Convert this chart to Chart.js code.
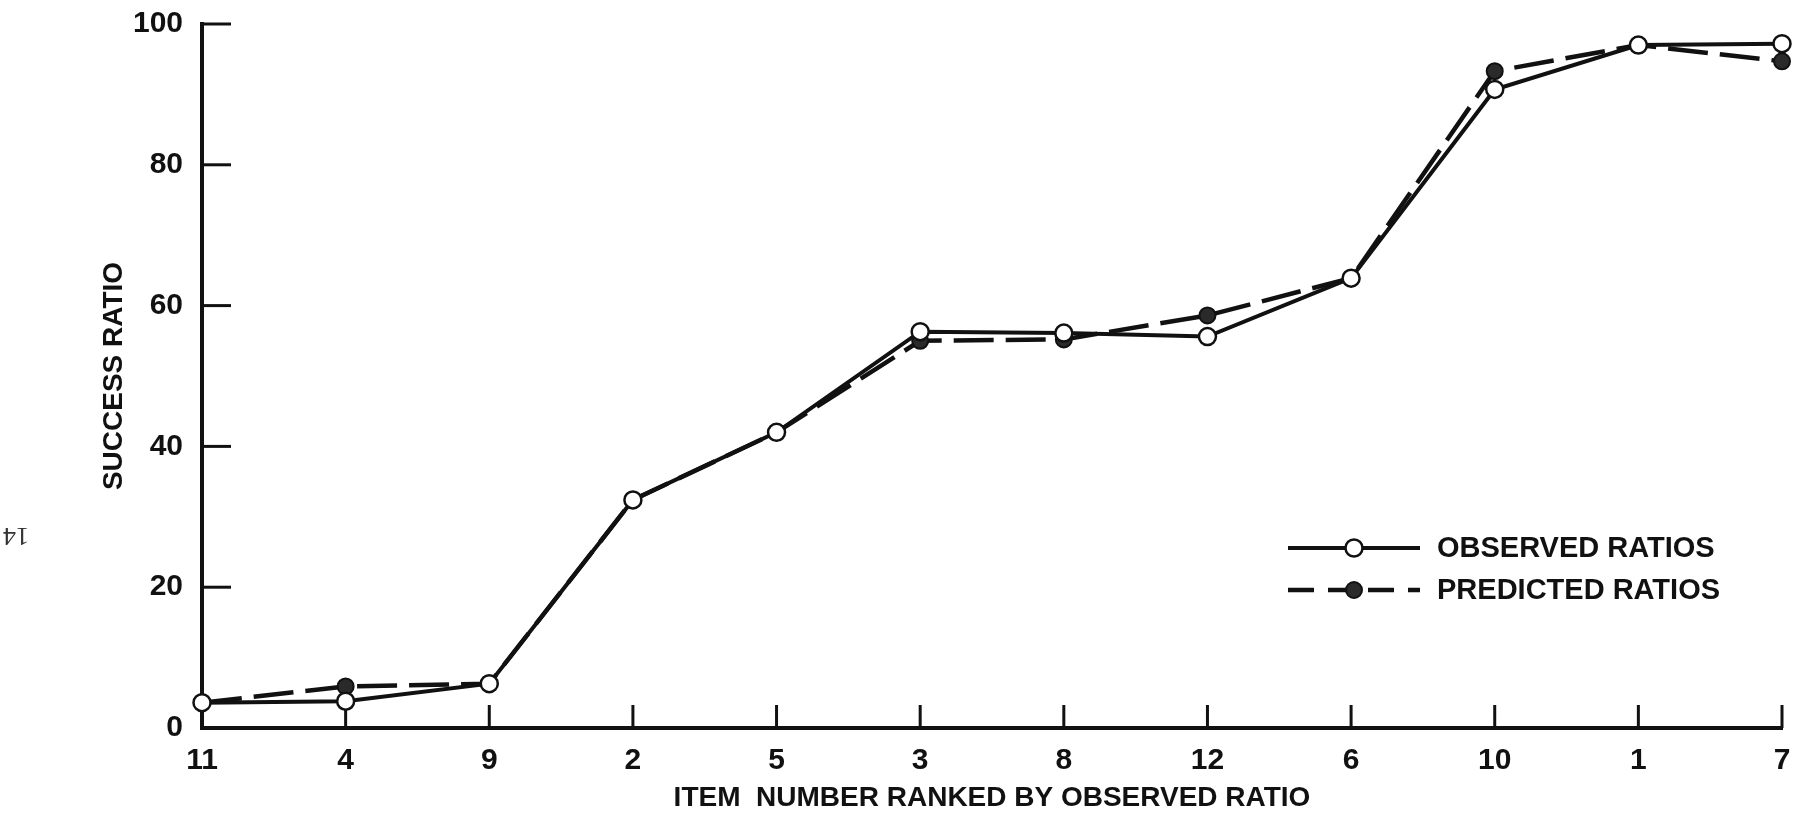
<!DOCTYPE html>
<html>
<head>
<meta charset="utf-8">
<script src="https://cdn.jsdelivr.net/npm/chart.js@4/dist/chart.umd.min.js"></script>
<style>
  html, body { margin: 0; padding: 0; background: #fff; }
  canvas { display: block; }
</style>
</head>
<body>
<canvas id="chart" width="1793" height="817"></canvas>
<script>
// item numbers, in the order ranked by observed ratio
const items = ["11", "4", "9", "2", "5", "3", "8", "12", "6", "10", "1", "7"];
const observedRatios = [3.6, 3.8, 6.3, 32.4, 42.0, 56.3, 56.1, 55.6, 63.9, 90.7, 97.0, 97.2];
const predictedRatios = [3.6, 5.9, 6.3, 32.4, 42.0, 55.0, 55.2, 58.6, 63.9, 93.3, 97.0, 94.7];
const yMin = 0, yMax = 100, yStep = 20;

const ink = "#111";
const font = "'Liberation Sans', Arial, sans-serif";

// ticks in this figure point into the plot, so draw them here
const inwardTicks = {
	id: "inwardTicks",
	beforeDatasetsDraw(chart) {
		const { ctx, scales: { x, y } } = chart;
		ctx.save();
		ctx.strokeStyle = ink;
		ctx.lineWidth = 3;
		y.ticks.forEach((t, i) => {
			const py = y.getPixelForTick(i);
			ctx.beginPath();
			ctx.moveTo(y.right, py);
			ctx.lineTo(y.right + 29, py);
			ctx.stroke();
		});
		x.ticks.forEach((t, i) => {
			const px = x.getPixelForTick(i);
			ctx.beginPath();
			ctx.moveTo(px, x.top);
			ctx.lineTo(px, x.top - 23);
			ctx.stroke();
		});
		ctx.restore();
	}
};

// key sits inside the plot, line sample with marker in the middle
const keyInside = {
	id: "keyInside",
	afterDraw(chart) {
		const { ctx, chartArea } = chart;
		const x0 = chartArea.right - 494, x1 = chartArea.right - 362;
		const mx = (x0 + x1) / 2;
		ctx.save();
		chart.data.datasets.forEach((ds, i) => {
			const yy = chartArea.bottom - 180 + i * 42;
			ctx.strokeStyle = ds.borderColor;
			ctx.lineWidth = ds.borderWidth;
			ctx.setLineDash(ds.legendDash || []);
			ctx.beginPath();
			ctx.moveTo(x0, yy);
			ctx.lineTo(x1, yy);
			ctx.stroke();
			ctx.setLineDash([]);
			ctx.beginPath();
			ctx.arc(mx, yy, ds.pointRadius, 0, Math.PI * 2);
			ctx.fillStyle = ds.pointBackgroundColor;
			ctx.fill();
			ctx.lineWidth = ds.pointBorderWidth;
			ctx.strokeStyle = ds.pointBorderColor;
			ctx.stroke();
			ctx.fillStyle = ink;
			ctx.font = "bold 29px " + font;
			ctx.textBaseline = "middle";
			ctx.fillText(ds.label, x1 + 17, yy + 1);
		});
		// page number, printed upside down in the margin
		ctx.translate(16, 535);
		ctx.rotate(Math.PI);
		ctx.font = "26px 'Liberation Serif', serif";
		ctx.fillStyle = "#333";
		ctx.textAlign = "center";
		ctx.textBaseline = "middle";
		ctx.fillText("14", 0, 0);
		ctx.restore();
	}
};

Chart.defaults.color = ink;
Chart.defaults.font.family = font;

new Chart(document.getElementById("chart"), {
	type: "line",
	data: {
		labels: items,
		datasets: [
			{
				label: "OBSERVED RATIOS",
				data: observedRatios,
				borderColor: ink,
				borderWidth: 4,
				pointRadius: 8.5,
				pointBorderWidth: 2.5,
				pointBackgroundColor: "#fff",
				pointBorderColor: ink,
				clip: false
			},
			{
				label: "PREDICTED RATIOS",
				data: predictedRatios,
				borderColor: ink,
				borderWidth: 4.5,
				borderDash: [40, 12],
				legendDash: [26, 14],
				pointRadius: 8,
				pointBorderWidth: 2,
				pointBackgroundColor: "#2a2a2a",
				pointBorderColor: ink,
				clip: false
			}
		]
	},
	options: {
		responsive: false,
		animation: false,
		layout: { padding: { top: 24, right: 11, left: 0, bottom: 0 } },
		plugins: {
			legend: { display: false },
			tooltip: { enabled: false }
		},
		scales: {
			x: {
				grid: { display: false, drawTicks: false },
				border: { display: true, color: ink, width: 4 },
				ticks: {
					autoSkip: false,
					maxRotation: 0,
					padding: 15,
					font: { size: 30, weight: "bold" }
				},
				title: {
					display: true,
					text: "ITEM  NUMBER RANKED BY OBSERVED RATIO",
					font: { size: 28, weight: "bold" },
					padding: { top: 0, bottom: 2 }
				},
				afterFit(scale) {
					scale.height = 89;
					scale.paddingLeft = 0;
					scale.paddingRight = 0;
				}
			},
			y: {
				min: yMin,
				max: yMax,
				grid: { display: false, drawTicks: false },
				border: { display: true, color: ink, width: 4 },
				ticks: {
					stepSize: yStep,
					padding: 19,
					font: { size: 30, weight: "bold" }
				},
				title: {
					display: true,
					text: "SUCCESS RATIO",
					font: { size: 28, weight: "bold" },
					padding: { top: 97, bottom: 0 }
				},
				afterFit(scale) {
					scale.width = 202;
					scale.paddingTop = 0;
					scale.paddingBottom = 0;
				}
			}
		}
	},
	plugins: [inwardTicks, keyInside]
});
</script>
</body>
</html>
